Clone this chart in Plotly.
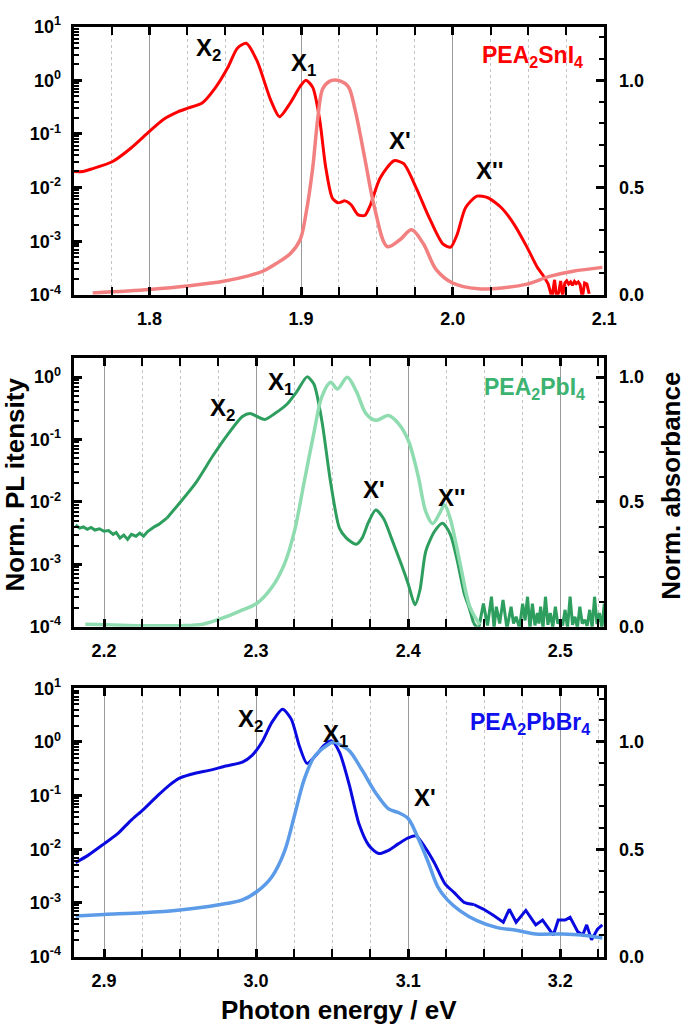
import numpy as np
import plotly.graph_objects as go

FONT = "Liberation Sans, Arial, sans-serif"

# ---------------- Panel 1: PEA2SnI4 ----------------
sn_pl_e = [1.750, 1.756, 1.7626, 1.7755, 1.7871, 1.800, 1.809, 1.8187, 1.8258, 1.8348,
           1.8432, 1.8516, 1.858, 1.8639, 1.871, 1.880, 1.8858, 1.8929, 1.8994, 1.9032,
           1.9077, 1.9123, 1.9161, 1.9206, 1.9245, 1.929, 1.933, 1.9374, 1.942, 1.9458,
           1.952, 1.9613, 1.9677, 1.976, 1.9845, 1.9935, 1.9987, 2.003, 2.0084, 2.016,
           2.0232, 2.0323, 2.0406, 2.049, 2.0555, 2.0600, 2.0630, 2.0655, 2.0672, 2.0685,
           2.0700, 2.0712, 2.0725, 2.0740, 2.0752, 2.0765, 2.0778, 2.0790, 2.0803, 2.0815,
           2.0828, 2.0840, 2.0855, 2.0870, 2.0885, 2.0900]
# log10 of normalized PL intensity
sn_pl_log = [-1.70, -1.70, -1.646, -1.518, -1.281, -0.953, -0.734, -0.588, -0.515, -0.423,
             -0.150, 0.234, 0.599, 0.690, 0.361, -0.369, -0.679, -0.423, -0.113, 0.0,
             -0.131, -0.734, -1.591, -2.193, -2.285, -2.248, -2.32, -2.504, -2.52, -2.32,
             -1.83, -1.50, -1.555, -2.01, -2.56, -3.05, -3.11, -2.87, -2.38, -2.16,
             -2.19, -2.38, -2.69, -3.11, -3.47, -3.65, -3.80, -4.05, -3.72, -4.05,
             -3.95, -3.74, -4.02, -3.78, -3.74, -3.80, -3.76, -3.82, -3.75, -3.79,
             -3.76, -3.81, -4.05, -3.78, -3.80, -3.98]
sn_abs_e = [1.7626, 1.80, 1.8252, 1.8497, 1.8645, 1.8748, 1.8839, 1.893, 1.8994, 1.9032,
            1.9077, 1.911, 1.9142, 1.9187, 1.9239, 1.931, 1.9355, 1.942, 1.9484, 1.9568,
            1.9652, 1.9729, 1.9806, 1.989, 2.0, 2.0168, 2.0323, 2.049, 2.0645, 2.0794, 2.0987]
sn_abs = [0.009, 0.025, 0.041, 0.064, 0.087, 0.11, 0.147, 0.193, 0.257, 0.376,
          0.592, 0.821, 0.959, 0.995, 1.0, 0.972, 0.867, 0.638, 0.408, 0.225,
          0.257, 0.303, 0.239, 0.119, 0.055, 0.028, 0.032, 0.050, 0.087, 0.11, 0.128]

# ---------------- Panel 2: PEA2PbI4 ----------------
pb_pl_e = [2.1813, 2.184, 2.1865, 2.189, 2.1915, 2.194, 2.197, 2.200, 2.203, 2.206,
           2.208, 2.2105, 2.213, 2.2155, 2.218, 2.221, 2.2235, 2.226, 2.2285, 2.231,
           2.233, 2.236, 2.2385, 2.2413, 2.2503, 2.2606, 2.2716, 2.2819, 2.291, 2.2961,
           2.3006, 2.3058, 2.3123, 2.3206, 2.3271, 2.3335, 2.338, 2.3432, 2.349, 2.3548,
           2.3594, 2.3658, 2.3697, 2.374, 2.3787, 2.3839, 2.389, 2.3955, 2.40, 2.4045,
           2.4077, 2.4116, 2.4174, 2.4226, 2.4277, 2.4323, 2.4368, 2.44, 2.443, 2.4462,
           2.4495, 2.4522, 2.4548, 2.4565, 2.458, 2.4602, 2.4624, 2.465, 2.4677, 2.4693,
           2.471, 2.4732, 2.4753, 2.4769, 2.4785, 2.4801, 2.4817, 2.4834, 2.485, 2.486,
           2.4871, 2.4887, 2.4903, 2.4919, 2.4935, 2.4951, 2.4968, 2.4984, 2.50, 2.5016,
           2.5032, 2.5048, 2.5065, 2.5081, 2.5097, 2.5113, 2.5129, 2.5145, 2.5161, 2.5177,
           2.5194, 2.521, 2.5226, 2.5242, 2.5258, 2.5274, 2.529]
pb_pl_log = [-2.37, -2.42, -2.40, -2.44, -2.41, -2.45, -2.43, -2.47, -2.46, -2.52,
             -2.49, -2.58, -2.53, -2.60, -2.52, -2.55, -2.50, -2.55, -2.48, -2.43,
             -2.40, -2.36, -2.31, -2.26, -2.0, -1.685, -1.26, -0.90, -0.63, -0.583,
             -0.63, -0.677, -0.583, -0.425, -0.22, 0.005, -0.11, -0.69, -1.685, -2.42,
             -2.58, -2.68, -2.58, -2.32, -2.13, -2.27, -2.58, -3.0, -3.31, -3.65,
             -3.42, -2.79, -2.47, -2.34, -2.52, -2.94, -3.46, -3.69, -3.94, -4.05,
             -3.63, -3.98, -3.52, -4.02, -3.68, -3.95, -3.57, -4.03, -3.68, -3.95,
             -3.84, -4.02, -3.63, -3.90, -3.52, -4.03, -3.63, -3.98, -3.78, -3.95,
             -3.68, -4.02, -3.52, -3.97, -3.78, -4.01, -3.68, -3.95, -3.89, -3.98,
             -3.73, -4.02, -3.52, -3.97, -3.84, -4.02, -3.68, -3.95, -3.89, -3.99,
             -3.73, -4.02, -3.52, -3.96, -3.78, -4.02, -3.63]
pb_abs_e = [2.1877, 2.2258, 2.25, 2.265, 2.28, 2.291, 2.3006, 2.3103, 2.3187, 2.3252,
            2.3316, 2.338, 2.3432, 2.349, 2.3535, 2.36, 2.3658, 2.3723, 2.3787, 2.387,
            2.3935, 2.40, 2.4065, 2.4116, 2.4161, 2.4206, 2.4239, 2.4277, 2.4342, 2.4406, 2.4471]
pb_abs = [0.01, 0.004, 0.004, 0.01, 0.039, 0.067, 0.094, 0.157, 0.252, 0.382,
          0.579, 0.776, 0.921, 0.98, 0.953, 1.0, 0.945, 0.854, 0.827, 0.846,
          0.815, 0.748, 0.606, 0.461, 0.413, 0.453, 0.488, 0.433, 0.252, 0.079, 0.008]

# ---------------- Panel 3: PEA2PbBr4 ----------------
br_pl_e = [2.8813, 2.8897, 2.90, 2.909, 2.9174, 2.9258, 2.9348, 2.9432, 2.95, 2.9606,
           2.969, 2.98, 2.991, 2.9974, 3.0039, 3.0103, 3.0174, 3.0232, 3.0284, 3.0335,
           3.0394, 3.0445, 3.0497, 3.0548, 3.0613, 3.0677, 3.0742, 3.0806, 3.0871, 3.0935,
           3.10, 3.1052, 3.111, 3.1174, 3.1239, 3.1303, 3.1368, 3.1432, 3.1497, 3.156,
           3.1626, 3.1665, 3.171, 3.1774, 3.1839, 3.1884, 3.1955, 3.1987, 3.2032, 3.2065,
           3.2116, 3.2148, 3.2174, 3.2206, 3.2245, 3.2277]
br_pl_log = [-2.25, -2.11, -1.90, -1.71, -1.47, -1.26, -1.015, -0.80, -0.67, -0.58,
             -0.53, -0.45, -0.375, -0.25, 0.0, 0.36, 0.61, 0.42, -0.07, -0.40,
             -0.25, -0.07, 0.02, -0.19, -0.80, -1.53, -1.93, -2.08, -2.02, -1.90,
             -1.79, -1.75, -1.96, -2.26, -2.63, -2.81, -2.99, -3.03, -3.12, -3.23,
             -3.36, -3.12, -3.36, -3.14, -3.41, -3.32, -3.60, -3.32, -3.32, -3.27,
             -3.54, -3.60, -3.41, -3.69, -3.49, -3.41]
br_abs_e = [2.8813, 2.90, 2.9258, 2.95, 2.9755, 2.991, 3.0006, 3.0103, 3.0187, 3.0252,
            3.0316, 3.038, 3.0445, 3.051, 3.0548, 3.0613, 3.0697, 3.0787, 3.0871, 3.0935,
            3.10, 3.1065, 3.1129, 3.1194, 3.1258, 3.1342, 3.1452, 3.158, 3.171, 3.1839,
            3.2013, 3.2142, 3.2277]
br_abs = [0.189, 0.196, 0.204, 0.217, 0.241, 0.264, 0.303, 0.371, 0.49, 0.656,
          0.824, 0.928, 0.973, 1.0, 0.988, 0.959, 0.869, 0.762, 0.688, 0.671,
          0.643, 0.552, 0.445, 0.326, 0.264, 0.213, 0.167, 0.136, 0.122, 0.105,
          0.105, 0.10, 0.086]

log_ticks = [1e-4, 1e-3, 1e-2, 1e-1, 1e0, 1e1]
log_tick_text = ["10<sup>-4</sup>", "10<sup>-3</sup>", "10<sup>-2</sup>",
                 "10<sup>-1</sup>", "10<sup>0</sup>", "10<sup>1</sup>"]
minor_log = [m * d for d in log_ticks[:-1] for m in range(2, 10)]

panels = [
    dict(pl_e=sn_pl_e, pl=sn_pl_log, ab_e=sn_abs_e, ab=sn_abs,
         segs=[(0, 46, "spline"), (45, None, "linear")],
         pl_c="#ff0000", ab_c="#f28080", lab_c="#ff0000",
         xr=[1.75, 2.1], ylog=[-4, 1], dom=[0.7208, 0.9855],
         name="PEA<sub>2</sub>SnI<sub>4</sub>", name_pos=(2.0875, 1.11),
         labels=[("X<sub>2</sub>", 1.8387, 1.142), ("X<sub>1</sub>", 1.9016, 1.073),
                 ("X'", 1.9652, 0.720), ("X''", 2.0245, 0.578)]),
    dict(pl_e=pb_pl_e, pl=pb_pl_log, ab_e=pb_abs_e, ab=pb_abs,
         segs=[(0, 24, "linear"), (23, 59, "spline"), (58, None, "linear")],
         pl_c="#2e9e5e", ab_c="#8fdcb0", lab_c="#3cb371",
         xr=[2.18, 2.529], ylog=[-4, 0.315], dom=[0.3932, 0.6589],
         name="PEA<sub>2</sub>PbI<sub>4</sub>", name_pos=(2.5174, 0.953),
         labels=[("X<sub>2</sub>", 2.278, 0.870), ("X<sub>1</sub>", 2.3161, 0.976),
                 ("X'", 2.3774, 0.551), ("X''", 2.4284, 0.516)]),
    dict(pl_e=br_pl_e, pl=br_pl_log, ab_e=br_abs_e, ab=br_abs,
         segs=[(0, 38, "spline"), (37, None, "linear")],
         pl_c="#0a0ae0", ab_c="#5b9be8", lab_c="#1010ee",
         xr=[2.88, 3.229], ylog=[-4, 1], dom=[0.0676, 0.3324],
         name="PEA<sub>2</sub>PbBr<sub>4</sub>", name_pos=(3.2206, 1.086),
         labels=[("X<sub>2</sub>", 2.9961, 1.10), ("X<sub>1</sub>", 3.0523, 1.032),
                 ("X'", 3.111, 0.742)]),
]

fig = go.Figure()
tickfont = dict(family=FONT, size=18, color="black", weight="bold")
annotations = []
layout = {}
for i, p in enumerate(panels, start=1):
    xa = f"x{i}"
    yl = f"y{i}"
    yr = f"y{i + 3}"
    pl_vals = 10 ** np.array(p["pl"])
    for a, b, shape in p["segs"]:
        fig.add_trace(go.Scatter(x=p["pl_e"][a:b], y=pl_vals[a:b], xaxis=xa, yaxis=yl,
                                 mode="lines",
                                 line=dict(color=p["pl_c"], width=3, shape=shape,
                                           smoothing=0.7),
                                 showlegend=False))
    fig.add_trace(go.Scatter(x=p["ab_e"], y=p["ab"], xaxis=xa, yaxis=yr,
                             mode="lines", line=dict(color=p["ab_c"], width=3.5,
                                                     shape="spline", smoothing=0.9),
                             showlegend=False))
    layout[f"xaxis{i}"] = dict(
        domain=[0.1084, 0.890], anchor=yl, range=p["xr"], tickmode="linear", tick0=0,
        dtick=0.1, tickformat=".1f", ticks="inside", ticklen=8, tickwidth=3,
        tickcolor="black", showline=True, linewidth=3, linecolor="black",
        mirror="allticks", showgrid=True, gridcolor="#9a9a9a", gridwidth=1,
        zeroline=False, tickfont=tickfont, ticklabelstandoff=6,
        minor=dict(dtick=0.025, ticks="inside", ticklen=5, tickwidth=2,
                   tickcolor="black", showgrid=True, gridcolor="#c4c4c4",
                   griddash="dot", gridwidth=1))
    layout[f"yaxis{i}"] = dict(
        domain=p["dom"], anchor=xa, type="log", range=p["ylog"], tickmode="array",
        tickvals=log_ticks, ticktext=log_tick_text, ticks="inside", ticklen=8,
        tickwidth=3, tickcolor="black", showline=True, linewidth=3, linecolor="black",
        mirror=True, showgrid=False, zeroline=False, tickfont=tickfont,
        ticklabelstandoff=6,
        minor=dict(tickmode="array", tickvals=minor_log, ticks="inside", ticklen=5,
                   tickwidth=2, tickcolor="black", showgrid=False))
    top = (p["ylog"][1] + 4) / 4
    layout[f"yaxis{i + 3}"] = dict(
        overlaying=yl, anchor=xa, side="right", range=[0, top], tickmode="array",
        tickvals=[0, 0.5, 1.0], ticktext=["0.0", "0.5", "1.0"], ticks="inside",
        ticklen=8, tickwidth=3, tickcolor="black", showline=True, linewidth=3,
        linecolor="black", showgrid=False, zeroline=False, tickfont=tickfont,
        ticklabelstandoff=8,
        minor=dict(dtick=0.1, ticks="inside", ticklen=5, tickwidth=2,
                   tickcolor="black", showgrid=False))
    for txt, ex, ey in p["labels"]:
        annotations.append(dict(text=txt, x=ex, y=ey, xref=xa, yref=yr, showarrow=False,
                                xanchor="center", yanchor="middle",
                                font=dict(family=FONT, size=24, color="black",
                                          weight="bold")))
    annotations.append(dict(text=p["name"], x=p["name_pos"][0], y=p["name_pos"][1],
                            xref=xa, yref=yr, xanchor="right", yanchor="middle",
                            showarrow=False,
                            font=dict(family=FONT, size=23, color=p["lab_c"],
                                      weight="bold")))

title_font = dict(family=FONT, size=26, color="black", weight="bold")
annotations += [
    dict(text="Norm. PL itensity", x=15 / 692, y=1 - 483 / 1035, xref="paper",
         yref="paper", xanchor="center", yanchor="middle", textangle=-90,
         showarrow=False, font=title_font),
    dict(text="Norm. absorbance", x=684 / 692, y=1 - 484 / 1035, xref="paper",
         yref="paper", xanchor="center", yanchor="middle", textangle=-90,
         showarrow=False, font=title_font),
    dict(text="Photon energy / eV", x=345 / 692, y=1 - 1020 / 1035, xref="paper",
         yref="paper", xanchor="center", yanchor="middle", showarrow=False,
         font=title_font),
]

fig.update_layout(width=692, height=1035, margin=dict(l=0, r=0, t=0, b=0),
                  plot_bgcolor="white", paper_bgcolor="white",
                  annotations=annotations, **layout)
fig.write_html("out.html")
